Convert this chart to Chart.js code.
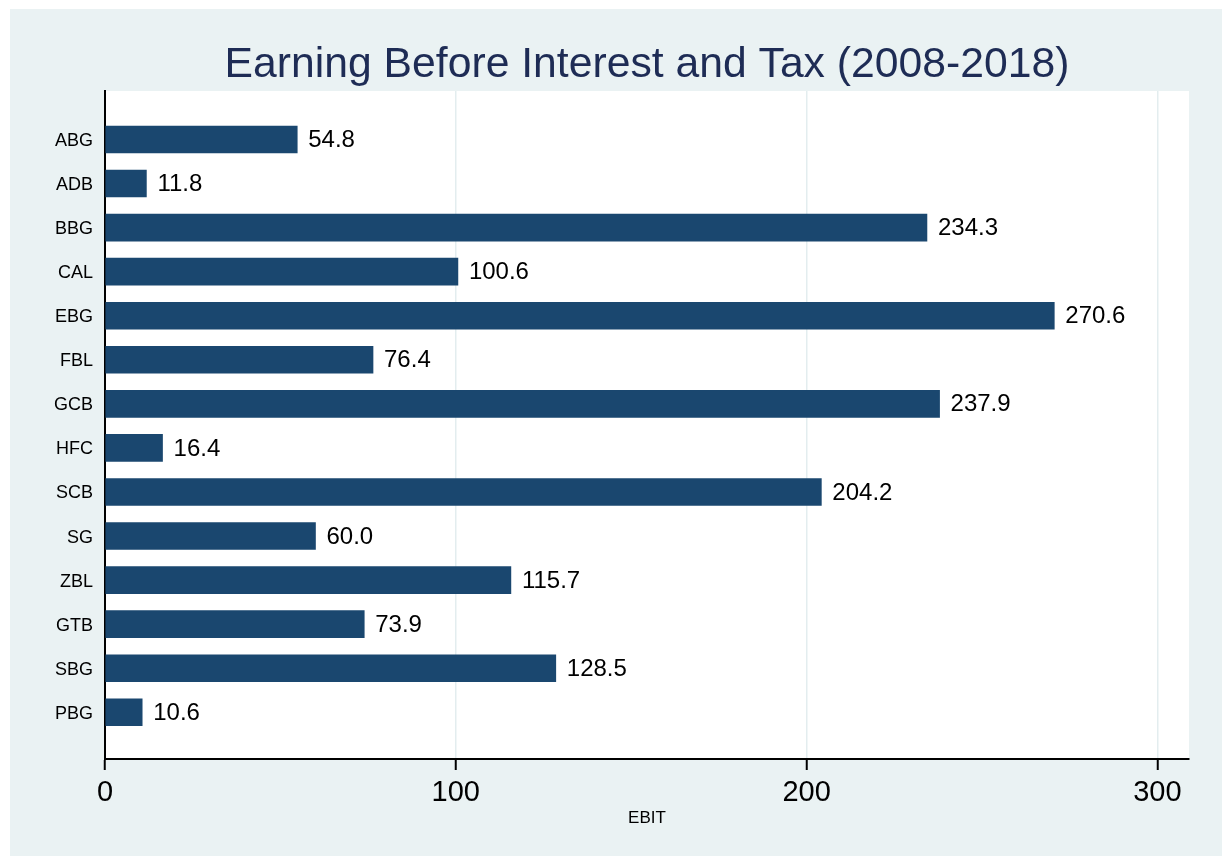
<!DOCTYPE html>
<html>
<head>
<meta charset="utf-8">
<script src="https://cdn.jsdelivr.net/npm/chart.js@4.4.1/dist/chart.umd.min.js"></script>
<style>
  html, body { margin: 0; padding: 0; background: #ffffff; }
  #wrap { position: absolute; left: 10px; top: 9px; width: 1212px; height: 847px; }
</style>
</head>
<body>
<div id="wrap"><canvas id="ebitChart"></canvas></div>
<script>
const banks = ['ABG', 'ADB', 'BBG', 'CAL', 'EBG', 'FBL', 'GCB', 'HFC', 'SCB', 'SG', 'ZBL', 'GTB', 'SBG', 'PBG'];
const ebit = [54.8, 11.8, 234.3, 100.6, 270.6, 76.4, 237.9, 16.4, 204.2, 60.0, 115.7, 73.9, 128.5, 10.6];
const xTicks = [0, 100, 200, 300];
const chartTitle = 'Earning Before Interest and Tax (2008-2018)';

const BG = '#EAF2F3';
const BAR = '#1A476F';
const FONT = '"Liberation Sans", Arial, sans-serif';

// light frame with white plot region, title centred over the plot
const backdrop = {
  id: 'backdrop',
  beforeDraw(chart) {
    const { ctx, chartArea } = chart;
    ctx.save();
    ctx.fillStyle = BG;
    ctx.fillRect(0, 0, chart.width, chart.height);
    ctx.fillStyle = '#ffffff';
    ctx.fillRect(chartArea.left, chartArea.top, chartArea.right - chartArea.left, chartArea.bottom - chartArea.top);
    ctx.font = '42.7px ' + FONT;
    ctx.fillStyle = '#1E2C55';
    ctx.textAlign = 'center';
    ctx.textBaseline = 'alphabetic';
    ctx.fillText(chartTitle, (chartArea.left + chartArea.right) / 2, 68);
    ctx.restore();
  },
};

// value labels to the right of each bar
const barValues = {
  id: 'barValues',
  afterDatasetsDraw(chart) {
    const { ctx } = chart;
    const meta = chart.getDatasetMeta(0);
    ctx.save();
    ctx.font = '24px ' + FONT;
    ctx.fillStyle = '#000000';
    ctx.textAlign = 'left';
    ctx.textBaseline = 'middle';
    meta.data.forEach((bar, i) => {
      ctx.fillText(ebit[i].toFixed(1), bar.x + 11, bar.y + 1);
    });
    ctx.restore();
  },
};

new Chart(document.getElementById('ebitChart'), {
  type: 'bar',
  data: {
    datasets: [
      {
        data: ebit.map((v, i) => ({ x: v, y: i })),
        backgroundColor: BAR,
        borderWidth: 0,
        barThickness: 27,
      },
    ],
  },
  options: {
    indexAxis: 'y',
    responsive: true,
    maintainAspectRatio: false,
    animation: false,
    layout: { padding: { top: 82, right: 33, bottom: 0, left: 0 } },
    plugins: {
      legend: { display: false },
      tooltip: { enabled: false },
      title: { display: false },
    },
    scales: {
      x: {
        type: 'linear',
        min: 0,
        max: 309,
        afterBuildTicks(scale) {
          scale.ticks = xTicks.map((v) => ({ value: v }));
        },
        afterFit(scale) {
          scale.height = 97;
        },
        grid: {
          color: '#E3EDEF',
          lineWidth: 1.5,
          tickColor: '#000000',
          tickWidth: 2,
          tickLength: 11,
        },
        border: { display: true, color: '#000000', width: 2 },
        ticks: {
          color: '#000000',
          padding: 6,
          font: { family: FONT, size: 29 },
        },
        title: {
          display: true,
          text: 'EBIT',
          color: '#000000',
          font: { family: FONT, size: 17 },
          padding: { top: 0, bottom: 27 },
        },
      },
      y: {
        type: 'linear',
        reverse: true,
        offset: false,
        min: -1.1,
        max: 14.06,
        afterBuildTicks(scale) {
          scale.ticks = banks.map((b, i) => ({ value: i }));
        },
        afterFit(scale) {
          scale.width = 95;
        },
        grid: { display: false, drawTicks: false, offset: false },
        border: { display: true, color: '#000000', width: 2 },
        ticks: {
          color: '#000000',
          padding: 12,
          labelOffset: 1.5,
          font: { family: FONT, size: 18 },
          callback: (value) => banks[value] ?? '',
        },
      },
    },
  },
  plugins: [backdrop, barValues],
});
</script>
</body>
</html>
